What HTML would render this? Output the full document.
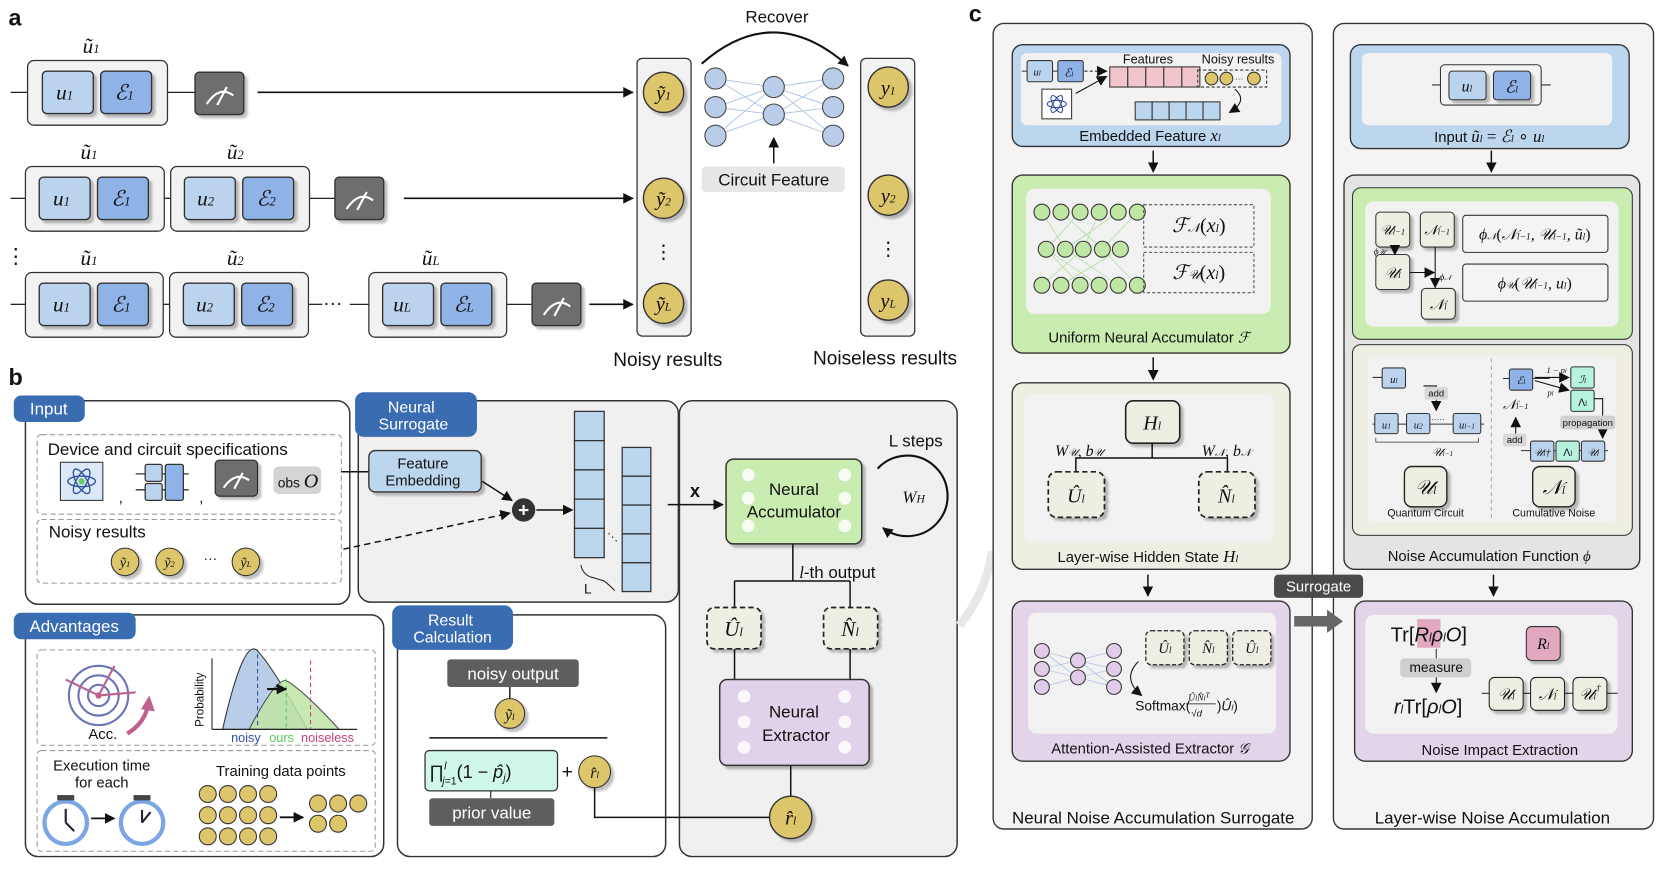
<!DOCTYPE html>
<html><head><meta charset="utf-8"><style>
html,body{margin:0;padding:0;background:#fff}
svg{display:block}
text{font-family:"Liberation Sans",sans-serif;fill:#111}
.m{font-family:"Liberation Serif",serif;font-style:italic}
</style></head><body>
<svg width="1662" height="880" viewBox="0 0 1568 830" xmlns="http://www.w3.org/2000/svg">
<defs>
<marker id="ar" viewBox="0 0 10 10" refX="9" refY="5" markerUnits="userSpaceOnUse" markerWidth="10" markerHeight="10" orient="auto"><path d="M0,0L10,5L0,10z" fill="#111"/></marker>
<filter id="sh" x="-10%" y="-10%" width="130%" height="130%"><feDropShadow dx="3" dy="3" stdDeviation="1" flood-color="#000" flood-opacity="0.25"/></filter>
</defs>

<!-- ===== Panel a ===== -->
<text x="8" y="24" font-size="22" font-weight="bold">a</text>
<g stroke="#222" stroke-width="1.2" fill="none">
<line x1="10" y1="87" x2="26" y2="87"/><line x1="158" y1="87" x2="184" y2="87"/>
<line x1="10" y1="187" x2="24" y2="187"/><line x1="155" y1="187" x2="161" y2="187"/><line x1="292" y1="187" x2="316" y2="187"/>
<line x1="10" y1="287" x2="24" y2="287"/><line x1="154" y1="287" x2="160" y2="287"/><line x1="291" y1="287" x2="304" y2="287"/><line x1="330" y1="287" x2="348" y2="287"/><line x1="478" y1="287" x2="502" y2="287"/>
</g>
<g stroke="#333" stroke-width="1.2">
<rect x="26" y="57" width="132" height="61" rx="6" fill="#f2f2f2"/>
<rect x="24" y="157" width="131" height="61" rx="6" fill="#f2f2f2"/><rect x="161" y="157" width="131" height="61" rx="6" fill="#f2f2f2"/>
<rect x="24" y="257" width="130" height="61" rx="6" fill="#f2f2f2"/><rect x="160" y="257" width="131" height="61" rx="6" fill="#f2f2f2"/><rect x="348" y="257" width="130" height="61" rx="6" fill="#f2f2f2"/>
</g>
<g stroke="#333" stroke-width="1.3" filter="url(#sh)">
<rect x="40" y="67" width="48" height="40" rx="4" fill="#bcd3ee"/><rect x="95" y="67" width="48" height="40" rx="4" fill="#8fb3e6"/>
<rect x="37" y="167" width="48" height="40" rx="4" fill="#bcd3ee"/><rect x="92" y="167" width="48" height="40" rx="4" fill="#8fb3e6"/>
<rect x="174" y="167" width="48" height="40" rx="4" fill="#bcd3ee"/><rect x="229" y="167" width="48" height="40" rx="4" fill="#8fb3e6"/>
<rect x="37" y="267" width="48" height="40" rx="4" fill="#bcd3ee"/><rect x="92" y="267" width="48" height="40" rx="4" fill="#8fb3e6"/>
<rect x="173" y="267" width="48" height="40" rx="4" fill="#bcd3ee"/><rect x="228" y="267" width="48" height="40" rx="4" fill="#8fb3e6"/>
<rect x="361" y="267" width="48" height="40" rx="4" fill="#bcd3ee"/><rect x="416" y="267" width="48" height="40" rx="4" fill="#8fb3e6"/>
<rect x="184" y="68" width="46" height="40" rx="4" fill="#6e6e6e"/>
<rect x="316" y="167" width="46" height="40" rx="4" fill="#6e6e6e"/>
<rect x="502" y="267" width="46" height="40" rx="4" fill="#6e6e6e"/>
</g>
<g stroke="#fff" stroke-width="2" fill="none">
<path d="M195,98 Q207,80 220,90"/><line x1="205" y1="99" x2="214" y2="82"/>
<path d="M327,197 Q339,179 352,189"/><line x1="337" y1="198" x2="346" y2="181"/>
<path d="M513,297 Q525,279 538,289"/><line x1="523" y1="298" x2="532" y2="281"/>
</g>
<g font-size="20">
<text x="53" y="94" class="m">u<tspan font-size="12">1</tspan></text><text x="108" y="94" class="m">ℰ<tspan font-size="12">1</tspan></text>
<text x="50" y="194" class="m">u<tspan font-size="12">1</tspan></text><text x="105" y="194" class="m">ℰ<tspan font-size="12">1</tspan></text>
<text x="186" y="194" class="m">u<tspan font-size="12">2</tspan></text><text x="242" y="194" class="m">ℰ<tspan font-size="12">2</tspan></text>
<text x="50" y="294" class="m">u<tspan font-size="12">1</tspan></text><text x="105" y="294" class="m">ℰ<tspan font-size="12">1</tspan></text>
<text x="185" y="294" class="m">u<tspan font-size="12">2</tspan></text><text x="241" y="294" class="m">ℰ<tspan font-size="12">2</tspan></text>
<text x="371" y="294" class="m">u<tspan font-size="12">L</tspan></text><text x="428" y="294" class="m">ℰ<tspan font-size="12">L</tspan></text>
<text x="78" y="50" class="m">ũ<tspan font-size="12">1</tspan></text>
<text x="76" y="150" class="m">ũ<tspan font-size="12">1</tspan></text><text x="214" y="150" class="m">ũ<tspan font-size="12">2</tspan></text>
<text x="76" y="250" class="m">ũ<tspan font-size="12">1</tspan></text><text x="214" y="250" class="m">ũ<tspan font-size="12">2</tspan></text><text x="398" y="250" class="m">ũ<tspan font-size="12">L</tspan></text>
</g>
<text x="5" y="248" font-size="20">⋮</text>
<text x="305" y="292" font-size="18">···</text>
<g stroke="#111" stroke-width="1.6" fill="none" marker-end="url(#ar)">
<line x1="243" y1="87" x2="597" y2="87"/><line x1="381" y1="187" x2="597" y2="187"/><line x1="556" y1="287" x2="597" y2="287"/>
</g>
<rect x="601" y="55" width="51" height="262" rx="5" fill="#f2f2f2" stroke="#333" stroke-width="1.2"/>
<rect x="812" y="55" width="51" height="262" rx="5" fill="#f2f2f2" stroke="#333" stroke-width="1.2"/>
<g fill="#dcc56a" stroke="#333" stroke-width="1.3" filter="url(#sh)">
<circle cx="626" cy="87" r="19"/><circle cx="626" cy="187" r="19"/><circle cx="626" cy="286" r="19"/>
<circle cx="838" cy="82" r="19"/><circle cx="838" cy="184" r="19"/><circle cx="838" cy="283" r="19"/>
</g>
<g font-size="19" text-anchor="middle">
<text x="626" y="94" class="m">ỹ<tspan font-size="11">1</tspan></text><text x="626" y="194" class="m">ỹ<tspan font-size="11">2</tspan></text><text x="626" y="293" class="m">ỹ<tspan font-size="11">L</tspan></text>
<text x="838" y="89" class="m">y<tspan font-size="11">1</tspan></text><text x="838" y="191" class="m">y<tspan font-size="11">2</tspan></text><text x="838" y="290" class="m">y<tspan font-size="11">L</tspan></text>
</g>
<text x="626" y="244" font-size="18" text-anchor="middle">⋮</text><text x="838" y="241" font-size="18" text-anchor="middle">⋮</text>
<path d="M662,60 Q730,0 800,62" fill="none" stroke="#111" stroke-width="2" marker-end="url(#ar)"/>
<text x="733" y="21" font-size="16" text-anchor="middle">Recover</text>
<g stroke="#a9c0e6" stroke-width="0.8">
<line x1="675" y1="74" x2="730" y2="82"/><line x1="675" y1="74" x2="730" y2="108"/><line x1="675" y1="101" x2="730" y2="82"/><line x1="675" y1="101" x2="730" y2="108"/><line x1="675" y1="128" x2="730" y2="82"/><line x1="675" y1="128" x2="730" y2="108"/>
<line x1="786" y1="74" x2="730" y2="82"/><line x1="786" y1="74" x2="730" y2="108"/><line x1="786" y1="101" x2="730" y2="82"/><line x1="786" y1="101" x2="730" y2="108"/><line x1="786" y1="128" x2="730" y2="82"/><line x1="786" y1="128" x2="730" y2="108"/>
</g>
<g fill="#b9cde8" stroke="#444" stroke-width="1">
<circle cx="675" cy="74" r="10"/><circle cx="675" cy="101" r="10"/><circle cx="675" cy="128" r="10"/>
<circle cx="730" cy="82" r="10"/><circle cx="730" cy="108" r="10"/>
<circle cx="786" cy="74" r="10"/><circle cx="786" cy="101" r="10"/><circle cx="786" cy="128" r="10"/>
</g>
<line x1="730" y1="154" x2="730" y2="130" stroke="#111" stroke-width="1.4" marker-end="url(#ar)"/>
<rect x="662" y="157" width="135" height="24" rx="4" fill="#e6e6e6"/>
<text x="730" y="175" font-size="16" text-anchor="middle">Circuit Feature</text>
<text x="630" y="345" font-size="18" text-anchor="middle">Noisy results</text>
<text x="835" y="344" font-size="18" text-anchor="middle">Noiseless results</text>

<!-- ===== Panel b ===== -->
<text x="8" y="363" font-size="22" font-weight="bold">b</text>
<rect x="24" y="378" width="306" height="192" rx="12" fill="#fff" stroke="#333" stroke-width="1.4"/>
<rect x="35" y="410" width="287" height="75" rx="4" fill="none" stroke="#999" stroke-dasharray="5,3"/>
<rect x="35" y="490" width="287" height="60" rx="4" fill="none" stroke="#999" stroke-dasharray="5,3"/>
<text x="45" y="429" font-size="16">Device and circuit specifications</text>
<rect x="57" y="436" width="40" height="36" fill="#dbe9f7" stroke="#333"/>
<g fill="none" stroke="#3050a0" stroke-width="1.3"><ellipse cx="77" cy="454" rx="13" ry="5"/><ellipse cx="77" cy="454" rx="13" ry="5" transform="rotate(60 77 454)"/><ellipse cx="77" cy="454" rx="13" ry="5" transform="rotate(-60 77 454)"/></g>
<circle cx="77" cy="454" r="3" fill="#6c6"/>
<g stroke="#333" stroke-width="1.2"><line x1="128" y1="447" x2="178" y2="447"/><line x1="128" y1="462" x2="178" y2="462"/>
<rect x="137" y="438" width="16" height="16" rx="2" fill="#bcd3ee"/><rect x="137" y="456" width="16" height="16" rx="2" fill="#bcd3ee"/><rect x="156" y="438" width="17" height="34" rx="2" fill="#8fb3e6"/></g>
<text x="112" y="474" font-size="14">,</text><text x="188" y="474" font-size="14">,</text>
<rect x="203" y="434" width="40" height="34" rx="4" fill="#6e6e6e" stroke="#222" filter="url(#sh)"/>
<path d="M211,460 Q222,444 235,453" fill="none" stroke="#fff" stroke-width="2"/><line x1="221" y1="461" x2="229" y2="446" stroke="#fff" stroke-width="2"/>
<rect x="258" y="440" width="45" height="26" rx="5" fill="#d4d4d4"/>
<text x="262" y="460" font-size="13">obs <tspan font-family="Liberation Serif" font-size="19" font-style="italic">O</tspan></text>
<text x="46" y="507" font-size="16">Noisy results</text>
<g fill="#dcc56a" stroke="#333" filter="url(#sh)"><circle cx="118" cy="530" r="13"/><circle cx="160" cy="530" r="13"/><circle cx="232" cy="530" r="13"/></g>
<g font-size="13" text-anchor="middle"><text x="118" y="535" class="m">ỹ<tspan font-size="8">1</tspan></text><text x="160" y="535" class="m">ỹ<tspan font-size="8">2</tspan></text><text x="232" y="535" class="m">ỹ<tspan font-size="8">L</tspan></text></g>
<text x="192" y="531" font-size="13">···</text>
<rect x="13" y="373" width="67" height="25" rx="7" fill="#3a6cb2"/>
<text x="46" y="391" font-size="16" text-anchor="middle" style="fill:#fff">Input</text>

<rect x="338" y="378" width="302" height="190" rx="12" fill="#f0f0f0" stroke="#333" stroke-width="1.4"/>
<rect x="335" y="370" width="115" height="42" rx="8" fill="#3a6cb2"/>
<text x="388" y="389" font-size="15" text-anchor="middle" style="fill:#fff">Neural</text>
<text x="390" y="405" font-size="15" text-anchor="middle" style="fill:#fff">Surrogate</text>
<line x1="322" y1="445" x2="348" y2="445" stroke="#111" stroke-width="1.4"/>
<rect x="348" y="425" width="106" height="39" rx="6" fill="#bcd6ee" stroke="#333" stroke-width="1.3" filter="url(#sh)"/>
<text x="399" y="442" font-size="14" text-anchor="middle">Feature</text><text x="399" y="458" font-size="14" text-anchor="middle">Embedding</text>
<line x1="455" y1="454" x2="483" y2="472" stroke="#111" stroke-width="1.4" marker-end="url(#ar)"/>
<line x1="324" y1="518" x2="481" y2="484" stroke="#111" stroke-width="1.4" stroke-dasharray="6,4" marker-end="url(#ar)"/>
<circle cx="494" cy="481" r="11" fill="#333"/><text x="494" y="487" font-size="18" text-anchor="middle" font-weight="bold" style="fill:#fff">+</text>
<line x1="506" y1="481" x2="540" y2="481" stroke="#111" stroke-width="1.4" marker-end="url(#ar)"/>
<g fill="#bcd6ee" stroke="#333" stroke-width="1.2">
<rect x="542" y="388" width="28" height="27.6"/><rect x="542" y="415.6" width="28" height="27.6"/><rect x="542" y="443.2" width="28" height="27.6"/><rect x="542" y="470.8" width="28" height="27.6"/><rect x="542" y="498.4" width="28" height="27.6"/>
<rect x="587" y="422" width="27" height="27.2"/><rect x="587" y="449.2" width="27" height="27.2"/><rect x="587" y="476.4" width="27" height="27.2"/><rect x="587" y="503.6" width="27" height="27.2"/><rect x="587" y="530.8" width="27" height="27.2"/>
</g>
<text x="573" y="510" font-size="10">⋱</text>
<path d="M548,533 Q550,543 560,545 L570,548 Q575,552 580,557" fill="none" stroke="#222"/>
<text x="551" y="560" font-size="13">L</text>

<rect x="641" y="378" width="262" height="430" rx="12" fill="#f0f0f0" stroke="#333" stroke-width="1.4"/>
<line x1="630" y1="476" x2="682" y2="476" stroke="#111" stroke-width="1.4" marker-end="url(#ar)"/>
<text x="651" y="469" font-size="17" font-weight="bold" font-family="Liberation Serif">x</text>
<rect x="685" y="433" width="128" height="80" rx="7" fill="#c9ecb0" stroke="#333" stroke-width="1.4" filter="url(#sh)"/>
<g fill="#fff" opacity="0.85"><circle cx="706" cy="448" r="6"/><circle cx="706" cy="470" r="6"/><circle cx="706" cy="496" r="6"/><circle cx="797" cy="448" r="6"/><circle cx="797" cy="470" r="6"/><circle cx="797" cy="496" r="6"/></g>
<text x="749" y="467" font-size="16" text-anchor="middle">Neural</text><text x="749" y="488" font-size="16" text-anchor="middle">Accumulator</text>
<text x="864" y="421" font-size="16" text-anchor="middle">L steps</text>
<path d="M828,442 A38,38 0 1 1 833,498" fill="none" stroke="#111" stroke-width="2" marker-end="url(#ar)"/>
<text x="862" y="474" font-size="16" class="m" text-anchor="middle">W<tspan font-size="11">H</tspan></text>
<g stroke="#111" stroke-width="1.4" fill="none">
<line x1="748" y1="513" x2="748" y2="548"/><line x1="693" y1="548" x2="802" y2="548"/>
<line x1="693" y1="548" x2="693" y2="573"/><line x1="802" y1="548" x2="802" y2="573"/>
<line x1="693" y1="612" x2="693" y2="641"/><line x1="802" y1="612" x2="802" y2="641"/>
<line x1="746" y1="722" x2="746" y2="751"/>
</g>
<text x="754" y="545" font-size="16"><tspan class="m">l</tspan>-th output</text>
<g fill="#efeee2" stroke="#222" stroke-width="1.6" stroke-dasharray="5,3" filter="url(#sh)">
<rect x="667" y="573" width="51" height="39" rx="7"/><rect x="777" y="573" width="51" height="39" rx="7"/></g>
<text x="692" y="600" font-size="20" class="m" text-anchor="middle">Û<tspan font-size="12">l</tspan></text>
<text x="802" y="600" font-size="20" class="m" text-anchor="middle">N̂<tspan font-size="12">l</tspan></text>
<rect x="679" y="641" width="141" height="81" rx="7" fill="#e0d2ea" stroke="#333" stroke-width="1.4" filter="url(#sh)"/>
<g fill="#fff" opacity="0.85"><circle cx="702" cy="657" r="6"/><circle cx="702" cy="681" r="6"/><circle cx="702" cy="705" r="6"/><circle cx="797" cy="657" r="6"/><circle cx="797" cy="681" r="6"/><circle cx="797" cy="705" r="6"/></g>
<text x="749" y="677" font-size="16" text-anchor="middle">Neural</text><text x="751" y="699" font-size="16" text-anchor="middle">Extractor</text>
<circle cx="746" cy="771" r="20" fill="#dcc56a" stroke="#333" stroke-width="1.3" filter="url(#sh)"/>
<text x="746" y="778" font-size="19" class="m" text-anchor="middle">r̂<tspan font-size="11">l</tspan></text>

<rect x="24" y="580" width="338" height="228" rx="12" fill="#fff" stroke="#333" stroke-width="1.4"/>
<rect x="35" y="613" width="319" height="90" rx="4" fill="none" stroke="#999" stroke-dasharray="5,3"/>
<rect x="35" y="708" width="319" height="95" rx="4" fill="none" stroke="#999" stroke-dasharray="5,3"/>
<rect x="13" y="578" width="115" height="25" rx="7" fill="#3a6cb2"/>
<text x="70" y="596" font-size="16" text-anchor="middle" style="fill:#fff">Advantages</text>
<g fill="none" stroke="#6a74b8" stroke-width="2"><circle cx="93" cy="656" r="28"/><circle cx="93" cy="656" r="19"/><circle cx="93" cy="656" r="10"/></g>
<circle cx="93" cy="656" r="3" fill="#c06090"/>
<g stroke="#c06090" stroke-width="2"><line x1="93" y1="656" x2="108" y2="628"/><line x1="93" y1="656" x2="62" y2="641"/><line x1="93" y1="656" x2="128" y2="653"/></g>
<path d="M120,692 Q135,683 139,668" fill="none" stroke="#c06090" stroke-width="4"/>
<path d="M133,669 L141,656 L146,671 Z" fill="#c06090"/>
<text x="97" y="697" font-size="14" text-anchor="middle">Acc.</text>
<text x="192" y="660" font-size="11" transform="rotate(-90 192 660)" text-anchor="middle">Probability</text>
<path d="M210,688 Q230,600 243,614 Q258,630 290,688 Z" fill="#b7cde8" stroke="#333"/>
<path d="M235,688 Q260,640 270,642 Q285,650 320,688 Z" fill="#bfe6a5" opacity="0.85" stroke="#333"/>
<line x1="200" y1="688" x2="337" y2="688" stroke="#222" stroke-width="1.2"/><line x1="200" y1="688" x2="200" y2="621" stroke="#222"/>
<line x1="243" y1="617" x2="243" y2="688" stroke="#3050a0" stroke-dasharray="4,3"/>
<line x1="270" y1="640" x2="270" y2="688" stroke="#5c5" stroke-dasharray="4,3"/>
<line x1="293" y1="623" x2="293" y2="688" stroke="#c04080" stroke-dasharray="4,3"/>
<line x1="252" y1="650" x2="270" y2="650" stroke="#111" stroke-width="2" marker-end="url(#ar)"/>
<text x="218" y="700" font-size="12" style="fill:#3050a0">noisy</text><text x="254" y="700" font-size="12" style="fill:#5c5">ours</text><text x="284" y="700" font-size="12" style="fill:#c04080">noiseless</text>
<text x="96" y="727" font-size="14" text-anchor="middle">Execution time</text><text x="96" y="743" font-size="14" text-anchor="middle">for each</text>
<g fill="#fff" stroke="#7aa6e6" stroke-width="4"><circle cx="62" cy="776" r="20"/><circle cx="134" cy="776" r="20"/></g>
<rect x="54" y="750" width="16" height="5" fill="#444"/><rect x="126" y="750" width="16" height="5" fill="#444"/>
<g stroke="#223" stroke-width="2"><line x1="62" y1="776" x2="62" y2="763"/><line x1="62" y1="776" x2="70" y2="784"/><line x1="134" y1="776" x2="134" y2="764"/><line x1="134" y1="776" x2="142" y2="766"/></g>
<line x1="86" y1="772" x2="108" y2="772" stroke="#111" stroke-width="1.6" marker-end="url(#ar)"/>
<text x="265" y="732" font-size="14" text-anchor="middle">Training data points</text>
<g fill="#dcc56a" stroke="#333" stroke-width="1">
<circle cx="196" cy="749" r="8"/><circle cx="215" cy="749" r="8"/><circle cx="234" cy="749" r="8"/><circle cx="253" cy="749" r="8"/>
<circle cx="196" cy="769" r="8"/><circle cx="215" cy="769" r="8"/><circle cx="234" cy="769" r="8"/><circle cx="253" cy="769" r="8"/>
<circle cx="196" cy="789" r="8"/><circle cx="215" cy="789" r="8"/><circle cx="234" cy="789" r="8"/><circle cx="253" cy="789" r="8"/>
<circle cx="300" cy="758" r="8"/><circle cx="319" cy="758" r="8"/><circle cx="338" cy="758" r="8"/><circle cx="300" cy="777" r="8"/><circle cx="319" cy="777" r="8"/>
</g>
<line x1="264" y1="771" x2="286" y2="771" stroke="#111" stroke-width="1.8" marker-end="url(#ar)"/>

<rect x="375" y="580" width="253" height="228" rx="12" fill="#fff" stroke="#333" stroke-width="1.4"/>
<rect x="370" y="571" width="114" height="42" rx="8" fill="#3a6cb2"/>
<text x="425" y="590" font-size="15" text-anchor="middle" style="fill:#fff">Result</text><text x="427" y="606" font-size="15" text-anchor="middle" style="fill:#fff">Calculation</text>
<rect x="422" y="622" width="124" height="26" rx="3" fill="#5e5e5e"/>
<text x="484" y="641" font-size="16" text-anchor="middle" style="fill:#fff">noisy output</text>
<line x1="481" y1="648" x2="481" y2="659" stroke="#111" stroke-width="1.3"/>
<circle cx="481" cy="673" r="14" fill="#dcc56a" stroke="#333" filter="url(#sh)"/>
<text x="481" y="679" font-size="15" class="m" text-anchor="middle">ỹ<tspan font-size="9">l</tspan></text>
<line x1="405" y1="696" x2="573" y2="696" stroke="#111" stroke-width="1.4"/>
<rect x="401" y="708" width="125" height="38" rx="4" fill="#cff7ea" stroke="#333" stroke-width="1.2"/>
<text x="405" y="734" font-size="17" font-family="Liberation Serif">∏<tspan font-size="10" font-style="italic" dy="-8">l</tspan><tspan font-size="10" font-style="italic" dx="-4" dy="14">j</tspan><tspan font-size="10" dy="0">=1</tspan><tspan dy="-6">(1 − </tspan><tspan font-style="italic">p̂</tspan><tspan font-size="10" font-style="italic" dy="3">j</tspan><tspan dy="-3">)</tspan></text>
<text x="530" y="734" font-size="18">+</text>
<line x1="463" y1="746" x2="463" y2="753" stroke="#111"/>
<rect x="405" y="753" width="118" height="26" rx="3" fill="#5e5e5e"/>
<text x="464" y="772" font-size="16" text-anchor="middle" style="fill:#fff">prior value</text>
<circle cx="561" cy="728" r="15" fill="#dcc56a" stroke="#333" filter="url(#sh)"/>
<text x="561" y="734" font-size="15" class="m" text-anchor="middle">r̂<tspan font-size="9">l</tspan></text>
<polyline points="561,743 561,771 726,771" fill="none" stroke="#111" stroke-width="1.4"/>

<!-- ===== Panel c ===== -->
<text x="914" y="20" font-size="22" font-weight="bold">c</text>
<path d="M905,590 Q930,560 936,520" fill="none" stroke="#e8e8e8" stroke-width="8"/>
<rect x="937" y="22" width="301" height="760" rx="10" fill="#f4f4f4" stroke="#333" stroke-width="1.3"/>
<rect x="1258" y="22" width="302" height="760" rx="10" fill="#f4f4f4" stroke="#333" stroke-width="1.3"/>
<text x="1088" y="777" font-size="16" text-anchor="middle">Neural Noise Accumulation Surrogate</text>
<text x="1408" y="777" font-size="16" text-anchor="middle">Layer-wise Noise Accumulation</text>

<rect x="955" y="42" width="262" height="96" rx="10" fill="#bcd6ee" stroke="#333" stroke-width="1.3"/>
<rect x="963" y="50" width="246" height="68" rx="6" fill="#f2f2f2"/>
<text x="1085" y="133" font-size="14" text-anchor="middle">Embedded Feature <tspan font-family="Liberation Serif" font-style="italic" font-size="16">x<tspan font-size="10">l</tspan></tspan></text>
<line x1="964" y1="67" x2="1022" y2="67" stroke="#333"/>
<rect x="969" y="57" width="24" height="20" rx="2" fill="#bcd3ee" stroke="#333"/><rect x="998" y="57" width="24" height="20" rx="2" fill="#8fb3e6" stroke="#333"/>
<text x="975" y="71" font-size="10" class="m">u<tspan font-size="7">l</tspan></text><text x="1004" y="72" font-size="11" class="m">ℰ<tspan font-size="7">l</tspan></text>
<line x1="1023" y1="67" x2="1044" y2="67" stroke="#111" stroke-dasharray="3,2" marker-end="url(#ar)"/>
<rect x="983" y="84" width="28" height="28" fill="#fff" stroke="#333"/>
<g fill="none" stroke="#3050a0"><ellipse cx="997" cy="98" rx="9" ry="3.5"/><ellipse cx="997" cy="98" rx="9" ry="3.5" transform="rotate(60 997 98)"/><ellipse cx="997" cy="98" rx="9" ry="3.5" transform="rotate(-60 997 98)"/></g>
<line x1="1015" y1="88" x2="1044" y2="72" stroke="#111" marker-end="url(#ar)"/>
<g fill="#f0c6cc" stroke="#333"><rect x="1047" y="63" width="17" height="19"/><rect x="1064" y="63" width="17" height="19"/><rect x="1081" y="63" width="17" height="19"/><rect x="1098" y="63" width="17" height="19"/><rect x="1115" y="63" width="17" height="19"/></g>
<text x="1083" y="60" font-size="12" text-anchor="middle">Features</text>
<text x="1168" y="60" font-size="12" text-anchor="middle">Noisy results</text>
<rect x="1130" y="66" width="65" height="16" fill="none" stroke="#333" stroke-dasharray="3,2"/>
<g fill="#dcc56a" stroke="#333"><circle cx="1143" cy="74" r="6"/><circle cx="1157" cy="74" r="6"/><circle cx="1183" cy="74" r="6"/></g>
<text x="1165" y="77" font-size="8">···</text>
<g fill="#bcd6ee" stroke="#333"><rect x="1071" y="96" width="16" height="17"/><rect x="1087" y="96" width="16" height="17"/><rect x="1103" y="96" width="16" height="17"/><rect x="1119" y="96" width="16" height="17"/><rect x="1135" y="96" width="16" height="17"/></g>
<path d="M1165,84 Q1178,95 1160,106" fill="none" stroke="#111" marker-end="url(#ar)"/>
<line x1="1088" y1="142" x2="1088" y2="162" stroke="#111" stroke-width="1.4" marker-end="url(#ar)"/>

<rect x="955" y="165" width="262" height="168" rx="10" fill="#c9ecb0" stroke="#333" stroke-width="1.3"/>
<rect x="968" y="178" width="231" height="118" rx="8" fill="#f2f2f2"/>
<g stroke="#aadf9a" stroke-width="0.7">
<line x1="983" y1="200" x2="1005" y2="235"/><line x1="1001" y1="200" x2="1040" y2="235"/><line x1="1019" y1="200" x2="987" y2="235"/><line x1="1037" y1="200" x2="1022" y2="235"/><line x1="1055" y1="200" x2="1005" y2="235"/><line x1="1073" y1="200" x2="1040" y2="235"/>
<line x1="987" y1="235" x2="1019" y2="269"/><line x1="1005" y1="235" x2="1055" y2="269"/><line x1="1022" y1="235" x2="983" y2="269"/><line x1="1040" y1="235" x2="1073" y2="269"/><line x1="1057" y1="235" x2="1001" y2="269"/><line x1="987" y1="235" x2="1037" y2="269"/>
</g>
<g fill="#bfe6a5" stroke="#333" stroke-width="1">
<circle cx="983" cy="200" r="7.5"/><circle cx="1001" cy="200" r="7.5"/><circle cx="1019" cy="200" r="7.5"/><circle cx="1037" cy="200" r="7.5"/><circle cx="1055" cy="200" r="7.5"/><circle cx="1073" cy="200" r="7.5"/>
<circle cx="987" cy="235" r="7.5"/><circle cx="1005" cy="235" r="7.5"/><circle cx="1022" cy="235" r="7.5"/><circle cx="1040" cy="235" r="7.5"/><circle cx="1057" cy="235" r="7.5"/>
<circle cx="983" cy="269" r="7.5"/><circle cx="1001" cy="269" r="7.5"/><circle cx="1019" cy="269" r="7.5"/><circle cx="1037" cy="269" r="7.5"/><circle cx="1055" cy="269" r="7.5"/><circle cx="1073" cy="269" r="7.5"/>
</g>
<rect x="1079" y="193" width="104" height="40" fill="none" stroke="#555" stroke-dasharray="3,2"/>
<rect x="1079" y="238" width="104" height="38" fill="none" stroke="#555" stroke-dasharray="3,2"/>
<text x="1131" y="219" font-size="19" class="m" text-anchor="middle">ℱ<tspan font-size="12">𝒩</tspan><tspan font-style="normal">(</tspan>x<tspan font-size="11">l</tspan><tspan font-style="normal">)</tspan></text>
<text x="1131" y="263" font-size="19" class="m" text-anchor="middle">ℱ<tspan font-size="12">𝒰</tspan><tspan font-style="normal">(</tspan>x<tspan font-size="11">l</tspan><tspan font-style="normal">)</tspan></text>
<text x="1084" y="323" font-size="14" text-anchor="middle">Uniform Neural Accumulator <tspan font-family="Liberation Serif" font-style="italic">ℱ</tspan></text>
<line x1="1088" y1="337" x2="1088" y2="358" stroke="#111" stroke-width="1.4" marker-end="url(#ar)"/>

<rect x="955" y="361" width="262" height="176" rx="10" fill="#efeee2" stroke="#333" stroke-width="1.3"/>
<rect x="966" y="372" width="236" height="140" rx="8" fill="#f2f2f2"/>
<rect x="1062" y="378" width="51" height="40" rx="7" fill="#efeee2" stroke="#222" stroke-width="1.5" filter="url(#sh)"/>
<text x="1087" y="405" font-size="19" class="m" text-anchor="middle">H<tspan font-size="11">l</tspan></text>
<g stroke="#111" stroke-width="1.4" fill="none"><line x1="1087" y1="418" x2="1087" y2="432"/><polyline points="1015,445 1015,432 1158,432 1158,445"/></g>
<text x="1018" y="430" font-size="15" class="m" text-anchor="middle">W<tspan font-size="10">𝒰</tspan>, b<tspan font-size="10">𝒰</tspan></text>
<text x="1157" y="430" font-size="15" class="m" text-anchor="middle">W<tspan font-size="10">𝒩</tspan>, b<tspan font-size="10">𝒩</tspan></text>
<g fill="#efeee2" stroke="#222" stroke-width="1.6" stroke-dasharray="5,3" filter="url(#sh)"><rect x="989" y="445" width="53" height="43" rx="8"/><rect x="1131" y="445" width="53" height="43" rx="8"/></g>
<text x="1015" y="474" font-size="19" class="m" text-anchor="middle">Û<tspan font-size="11">l</tspan></text>
<text x="1157" y="474" font-size="19" class="m" text-anchor="middle">N̂<tspan font-size="11">l</tspan></text>
<text x="1083" y="530" font-size="14" text-anchor="middle">Layer-wise Hidden State <tspan font-family="Liberation Serif" font-style="italic" font-size="16">H<tspan font-size="10">l</tspan></tspan></text>
<line x1="1083" y1="542" x2="1083" y2="562" stroke="#111" stroke-width="1.4" marker-end="url(#ar)"/>

<rect x="955" y="567" width="262" height="151" rx="10" fill="#e2d5ea" stroke="#333" stroke-width="1.3"/>
<rect x="970" y="578" width="234" height="114" rx="8" fill="#f2f2f2"/>
<g stroke="#a9c0e6" stroke-width="0.7"><line x1="983" y1="614" x2="1017" y2="623"/><line x1="983" y1="631" x2="1017" y2="623"/><line x1="983" y1="631" x2="1017" y2="639"/><line x1="983" y1="648" x2="1017" y2="639"/><line x1="983" y1="614" x2="1017" y2="639"/><line x1="1017" y1="623" x2="1051" y2="614"/><line x1="1017" y1="623" x2="1051" y2="631"/><line x1="1017" y1="639" x2="1051" y2="631"/><line x1="1017" y1="639" x2="1051" y2="648"/><line x1="1017" y1="623" x2="1051" y2="648"/></g>
<g fill="#e0cce8" stroke="#333"><circle cx="983" cy="614" r="7"/><circle cx="983" cy="631" r="7"/><circle cx="983" cy="648" r="7"/><circle cx="1017" cy="623" r="7"/><circle cx="1017" cy="639" r="7"/><circle cx="1051" cy="614" r="7"/><circle cx="1051" cy="631" r="7"/><circle cx="1051" cy="648" r="7"/></g>
<path d="M1074,624 Q1058,640 1077,656" fill="none" stroke="#111" marker-end="url(#ar)"/>
<g fill="#efeee2" stroke="#222" stroke-width="1.2" stroke-dasharray="4,2" filter="url(#sh)"><rect x="1081" y="595" width="36" height="32" rx="5"/><rect x="1122" y="595" width="36" height="32" rx="5"/><rect x="1163" y="595" width="36" height="32" rx="5"/></g>
<text x="1099" y="616" font-size="14" class="m" text-anchor="middle">Û<tspan font-size="9">l</tspan></text><text x="1140" y="616" font-size="14" class="m" text-anchor="middle">N̂<tspan font-size="9">l</tspan></text><text x="1181" y="616" font-size="14" class="m" text-anchor="middle">Û<tspan font-size="9">l</tspan></text>
<text x="1071" y="670" font-size="13" font-family="Liberation Serif">Softmax(</text>
<text x="1121" y="661" font-size="9" class="m">Û<tspan font-size="7">l</tspan>N̂<tspan font-size="7">l</tspan><tspan font-size="7" dy="-3">T</tspan></text>
<line x1="1119" y1="664" x2="1147" y2="664" stroke="#111" stroke-width="0.7"/>
<text x="1124" y="676" font-size="9" font-family="Liberation Serif">√<tspan font-style="italic">d</tspan></text>
<text x="1148" y="670" font-size="13" font-family="Liberation Serif">)<tspan font-style="italic">Û<tspan font-size="8">l</tspan></tspan>)</text>
<text x="1085" y="711" font-size="14" text-anchor="middle">Attention-Assisted Extractor <tspan font-family="Liberation Serif" font-style="italic">𝒢</tspan></text>

<rect x="1274" y="42" width="263" height="98" rx="10" fill="#bcd6ee" stroke="#333" stroke-width="1.3"/>
<rect x="1285" y="50" width="236" height="68" rx="6" fill="#f2f2f2"/>
<line x1="1351" y1="80" x2="1463" y2="80" stroke="#333"/>
<rect x="1359" y="61" width="95" height="38" rx="4" fill="#f4f4f4" stroke="#333"/>
<rect x="1367" y="67" width="35" height="27" rx="3" fill="#bcd3ee" stroke="#333" filter="url(#sh)"/><rect x="1409" y="67" width="35" height="27" rx="3" fill="#8fb3e6" stroke="#333" filter="url(#sh)"/>
<text x="1384" y="86" font-size="15" class="m" text-anchor="middle">u<tspan font-size="9">l</tspan></text><text x="1426" y="87" font-size="16" class="m" text-anchor="middle">ℰ<tspan font-size="9">l</tspan></text>
<text x="1405" y="134" font-size="14" text-anchor="middle">Input  <tspan font-family="Liberation Serif" font-style="italic" font-size="16">ũ<tspan font-size="10">l</tspan> <tspan font-style="normal">=</tspan> ℰ<tspan font-size="10">l</tspan> <tspan font-style="normal">∘</tspan> u<tspan font-size="10">l</tspan></tspan></text>
<line x1="1407" y1="142" x2="1407" y2="162" stroke="#111" stroke-width="1.4" marker-end="url(#ar)"/>

<rect x="1268" y="165" width="279" height="372" rx="10" fill="#e4e4e4" stroke="#333" stroke-width="1.3"/>
<rect x="1276" y="177" width="264" height="143" rx="8" fill="#c9ecb0" stroke="#333"/>
<rect x="1288" y="190" width="239" height="118" rx="8" fill="#f2f2f2"/>
<g fill="#efeee2" stroke="#333" filter="url(#sh)"><rect x="1298" y="200" width="32" height="33" rx="4"/><rect x="1340" y="200" width="32" height="33" rx="4"/><rect x="1298" y="240" width="32" height="33" rx="4"/><rect x="1341" y="272" width="32" height="29" rx="4"/></g>
<text x="1314" y="221" font-size="13" class="m" text-anchor="middle">𝒰<tspan font-size="8">l−1</tspan></text><text x="1356" y="221" font-size="13" class="m" text-anchor="middle">𝒩<tspan font-size="8">l−1</tspan></text>
<text x="1314" y="262" font-size="14" class="m" text-anchor="middle">𝒰<tspan font-size="9">l</tspan></text><text x="1357" y="292" font-size="14" class="m" text-anchor="middle">𝒩<tspan font-size="9">l</tspan></text>
<g stroke="#111" fill="none" marker-end="url(#ar)"><line x1="1316" y1="233" x2="1316" y2="240"/><line x1="1330" y1="257" x2="1353" y2="257"/><line x1="1354" y1="233" x2="1354" y2="271"/></g>
<text x="1296" y="240" font-size="9" class="m">ϕ<tspan font-size="7">𝒰</tspan></text><text x="1358" y="264" font-size="9" class="m">ϕ<tspan font-size="7">𝒩</tspan></text>
<rect x="1380" y="203" width="137" height="35" rx="3" fill="#f4f4f4" stroke="#333"/>
<rect x="1380" y="249" width="137" height="35" rx="3" fill="#f4f4f4" stroke="#333"/>
<text x="1448" y="226" font-size="15" class="m" text-anchor="middle">ϕ<tspan font-size="9">𝒩</tspan><tspan font-style="normal">(</tspan>𝒩<tspan font-size="9">l−1</tspan>, 𝒰<tspan font-size="9">l−1</tspan>, ũ<tspan font-size="9">l</tspan><tspan font-style="normal">)</tspan></text>
<text x="1448" y="272" font-size="15" class="m" text-anchor="middle">ϕ<tspan font-size="9">𝒰</tspan><tspan font-style="normal">(</tspan>𝒰<tspan font-size="9">l−1</tspan>, u<tspan font-size="9">l</tspan><tspan font-style="normal">)</tspan></text>

<rect x="1276" y="325" width="264" height="180" rx="8" fill="#efeee2" stroke="#333"/>
<rect x="1290" y="336" width="235" height="157" rx="6" fill="#f2f2f2"/>
<line x1="1407" y1="338" x2="1407" y2="492" stroke="#aaa" stroke-dasharray="4,3"/>
<g stroke="#333" stroke-width="1"><line x1="1295" y1="356" x2="1325" y2="356"/><line x1="1295" y1="400" x2="1400" y2="400"/><line x1="1418" y1="357" x2="1462" y2="357"/><line x1="1435" y1="425" x2="1517" y2="425"/></g>
<g fill="#bcd3ee" stroke="#333"><rect x="1304" y="347" width="22" height="19" rx="2"/><rect x="1297" y="390" width="22" height="19" rx="2"/><rect x="1327" y="390" width="22" height="19" rx="2"/><rect x="1371" y="390" width="26" height="19" rx="2"/><rect x="1492" y="416" width="22" height="19" rx="2"/><rect x="1444" y="416" width="22" height="19" rx="2"/></g>
<rect x="1424" y="348" width="22" height="20" rx="2" fill="#8fb3e6" stroke="#333"/>
<g fill="#b7f2df" stroke="#333"><rect x="1482" y="346" width="22" height="20" rx="2"/><rect x="1482" y="368" width="22" height="20" rx="2"/><rect x="1468" y="416" width="22" height="19" rx="2"/></g>
<g font-size="10" text-anchor="middle"><text x="1315" y="361" class="m">u<tspan font-size="7">l</tspan></text><text x="1308" y="404" class="m">u<tspan font-size="7">1</tspan></text><text x="1338" y="404" class="m">u<tspan font-size="7">2</tspan></text><text x="1384" y="404" class="m">u<tspan font-size="7">l−1</tspan></text><text x="1435" y="362" class="m">ℰ<tspan font-size="7">l</tspan></text><text x="1493" y="361" class="m">ℐ<tspan font-size="7">l</tspan></text><text x="1493" y="383">Λ<tspan font-size="7">l</tspan></text><text x="1455" y="430" class="m">𝒰<tspan font-size="7">l</tspan>†</text><text x="1479" y="430">Λ<tspan font-size="7">l</tspan></text><text x="1503" y="430" class="m">𝒰<tspan font-size="7">l</tspan></text></g>
<text x="1361" y="430" font-size="11" class="m" text-anchor="middle">𝒰<tspan font-size="7">l−1</tspan></text>
<polyline points="1298,413 1298,417 1395,417 1395,413" fill="none" stroke="#333" stroke-width="0.7"/>
<text x="1350" y="398" font-size="8">·····</text>
<polyline points="1343,364 1355,364 1355,387" fill="none" stroke="#111" marker-end="url(#ar)"/>
<rect x="1344" y="365" width="22" height="12" rx="2" fill="#d8d8d8"/><text x="1355" y="374" font-size="9" text-anchor="middle">add</text>
<g stroke="#111" fill="none" marker-end="url(#ar)"><line x1="1448" y1="356" x2="1480" y2="356"/><line x1="1448" y1="359" x2="1480" y2="368"/><polyline points="1504,376 1512,376 1512,413"/><line x1="1430" y1="413" x2="1430" y2="394"/></g>
<text x="1459" y="352" font-size="8" class="m">1 − p<tspan font-size="6">l</tspan></text><text x="1460" y="373" font-size="8" class="m">p<tspan font-size="6">l</tspan></text>
<text x="1430" y="386" font-size="13" class="m" text-anchor="middle">𝒩<tspan font-size="8">l−1</tspan></text>
<rect x="1472" y="392" width="52" height="13" rx="3" fill="#d0d0d0"/><text x="1498" y="402" font-size="9" text-anchor="middle">propagation</text>
<rect x="1418" y="409" width="22" height="12" rx="2" fill="#d8d8d8"/><text x="1429" y="418" font-size="9" text-anchor="middle">add</text>
<g fill="#efeee2" stroke="#222" stroke-width="1.3" filter="url(#sh)"><rect x="1325" y="440" width="40" height="38" rx="7"/><rect x="1446" y="440" width="40" height="38" rx="7"/></g>
<text x="1345" y="466" font-size="19" class="m" text-anchor="middle">𝒰<tspan font-size="11">l</tspan></text><text x="1466" y="466" font-size="19" class="m" text-anchor="middle">𝒩<tspan font-size="11">l</tspan></text>
<text x="1345" y="487" font-size="10" text-anchor="middle">Quantum Circuit</text><text x="1466" y="487" font-size="10" text-anchor="middle">Cumulative Noise</text>
<text x="1405" y="529" font-size="14" text-anchor="middle">Noise Accumulation Function <tspan font-family="Liberation Serif" font-style="italic">ϕ</tspan></text>
<line x1="1409" y1="542" x2="1409" y2="562" stroke="#111" stroke-width="1.4" marker-end="url(#ar)"/>

<rect x="1278" y="567" width="262" height="151" rx="10" fill="#e2d5ea" stroke="#333" stroke-width="1.3"/>
<rect x="1288" y="580" width="238" height="112" rx="8" fill="#f2f2f2"/>
<rect x="1337" y="584" width="22" height="27" fill="#e2a8c0"/>
<text x="1312" y="605" font-size="19" font-family="Liberation Serif">Tr[<tspan font-style="italic">R<tspan font-size="11">l</tspan>ρ<tspan font-size="11">l</tspan>O</tspan>]</text>
<line x1="1355" y1="612" x2="1355" y2="622" stroke="#333"/>
<rect x="1321" y="621" width="67" height="18" rx="4" fill="#cfcfcf"/><text x="1355" y="634" font-size="13" text-anchor="middle">measure</text>
<line x1="1355" y1="639" x2="1355" y2="653" stroke="#111" marker-end="url(#ar)"/>
<text x="1315" y="673" font-size="19" font-family="Liberation Serif"><tspan font-style="italic">r<tspan font-size="11">l</tspan></tspan>Tr[<tspan font-style="italic">ρ<tspan font-size="11">l</tspan>O</tspan>]</text>
<rect x="1440" y="591" width="32" height="32" rx="5" fill="#e2a8c0" stroke="#333" filter="url(#sh)"/>
<text x="1456" y="612" font-size="15" class="m" text-anchor="middle">R<tspan font-size="9">l</tspan></text>
<line x1="1398" y1="654" x2="1526" y2="654" stroke="#333"/>
<g fill="#efeee2" stroke="#222" filter="url(#sh)"><rect x="1405" y="639" width="32" height="31" rx="5"/><rect x="1444" y="639" width="32" height="31" rx="5"/><rect x="1484" y="639" width="32" height="31" rx="5"/></g>
<text x="1421" y="660" font-size="15" class="m" text-anchor="middle">𝒰<tspan font-size="9">l</tspan></text><text x="1460" y="660" font-size="15" class="m" text-anchor="middle">𝒩<tspan font-size="9">l</tspan></text><text x="1500" y="660" font-size="15" class="m" text-anchor="middle">𝒰<tspan font-size="9">l</tspan><tspan font-size="9" dy="-8">†</tspan></text>
<text x="1415" y="712" font-size="14" text-anchor="middle">Noise Impact Extraction</text>

<rect x="1202" y="542" width="84" height="22" rx="4" fill="#4a4a4a"/>
<text x="1244" y="558" font-size="14" text-anchor="middle" style="fill:#fff">Surrogate</text>
<path d="M1221,581 L1252,581 L1252,575 L1267,586 L1252,597 L1252,591 L1221,591 Z" fill="#666"/>
</svg>
</body></html>
